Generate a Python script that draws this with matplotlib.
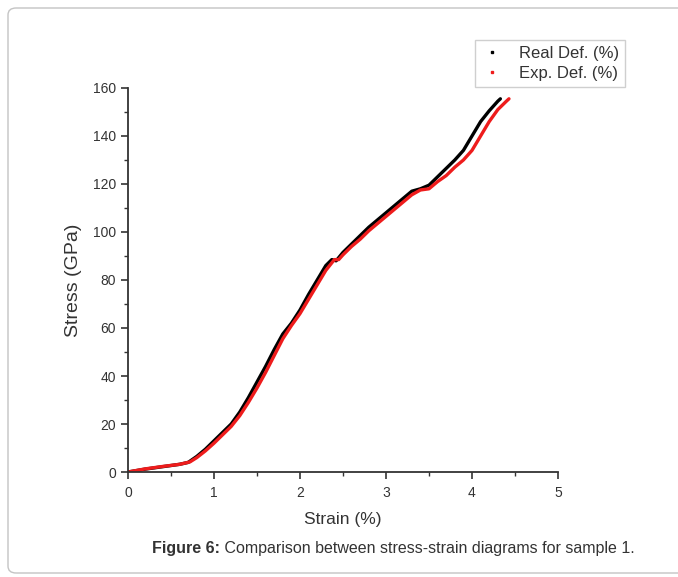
#!/usr/bin/env python3
"""
Stress-strain comparison for sample 1 (Figure 6 recreation).
"""
import matplotlib
matplotlib.use("Agg")
import matplotlib.pyplot as plt
from matplotlib.lines import Line2D
from matplotlib.patches import FancyBboxPatch
from matplotlib.ticker import MultipleLocator

# --- data ---------------------------------------------------------------------------------------
real_strain = [0.0, 0.2, 0.4, 0.6, 0.7, 0.8, 0.9, 1.0, 1.1, 1.2, 1.3, 1.4, 1.5, 1.6, 1.7, 1.8,
               1.9, 2.0, 2.1, 2.2, 2.3, 2.37, 2.42, 2.5, 2.6, 2.7, 2.8, 2.9, 3.0, 3.1, 3.2, 3.3,
               3.4, 3.5, 3.6, 3.7, 3.8, 3.9, 4.0, 4.1, 4.2, 4.3, 4.33]
real_stress = [0.0, 1.2, 2.2, 3.2, 4.0, 6.5, 9.5, 13.0, 16.5, 20.0, 25.0, 31.0, 37.5, 44.0, 51.0,
               57.5, 62.0, 67.5, 74.0, 80.0, 86.0, 88.5, 88.0, 91.5, 95.0, 98.5, 102.0, 105.0,
               108.0, 111.0, 114.0, 117.0, 118.0, 119.5, 123.0, 126.5, 130.0, 134.0, 140.0,
               146.0, 150.5, 154.5, 155.5]

exp_strain = [0.0, 0.2, 0.4, 0.6, 0.72, 0.8, 0.9, 1.0, 1.1, 1.2, 1.3, 1.4, 1.5, 1.6, 1.7, 1.8,
              1.9, 2.0, 2.1, 2.2, 2.3, 2.4, 2.45, 2.5, 2.6, 2.7, 2.8, 2.9, 3.0, 3.1, 3.2, 3.3,
              3.4, 3.5, 3.6, 3.7, 3.8, 3.9, 4.0, 4.1, 4.2, 4.3, 4.4, 4.43]
exp_stress = [0.0, 1.3, 2.3, 3.2, 4.2, 6.0, 8.8, 12.0, 15.5, 19.0, 23.5, 29.0, 35.0, 41.5, 48.5,
              55.5, 61.0, 66.0, 72.0, 78.0, 84.0, 88.5, 88.5, 90.5, 94.0, 97.0, 100.5, 103.5,
              106.5, 109.5, 112.5, 115.5, 117.5, 118.0, 121.0, 123.5, 127.0, 130.0, 134.0,
              140.0, 146.0, 151.0, 154.5, 155.5]

SERIES_LABELS = ["Real Def. (%)", "Exp. Def. (%)"]
CAPTION_BOLD = "Figure 6:"
CAPTION_TEXT = " Comparison between stress-strain diagrams for sample 1."

W, H = 678, 577
plt.rcParams["font.family"] = ["Liberation Sans", "DejaVu Sans"]
INK = "#333333"


def main():
    fig = plt.figure(figsize=(W / 100, H / 100), dpi=100)

    # rounded frame around the figure (right side runs off the image)
    frame = FancyBboxPatch((8 / W, 4 / H), 700 / W, (H - 12) / H,
                           boxstyle="round,pad=0,rounding_size=0.012",
                           transform=fig.transFigure, facecolor="none",
                           edgecolor="#c4c4c4", linewidth=1.0)
    fig.patches.append(frame)

    ax = fig.add_axes([128 / W, 1 - 472 / H, (558 - 128) / W, (472 - 88) / H])
    ax.plot(real_strain, real_stress, color="black", linewidth=2.4, solid_capstyle="round")
    ax.plot(exp_strain, exp_stress, color="#ee1c1c", linewidth=2.4, solid_capstyle="round")

    ax.set_xlim(0, 5)
    ax.set_ylim(0, 160)
    ax.xaxis.set_major_locator(MultipleLocator(1))
    ax.xaxis.set_minor_locator(MultipleLocator(0.5))
    ax.yaxis.set_major_locator(MultipleLocator(20))
    ax.yaxis.set_minor_locator(MultipleLocator(10))
    for s in ("top", "right"):
        ax.spines[s].set_visible(False)
    for s in ("left", "bottom"):
        ax.spines[s].set_color(INK)
        ax.spines[s].set_linewidth(1.3)
    ax.tick_params(which="major", direction="out", length=5, width=1.2, color=INK,
                   labelcolor=INK, labelsize=10)
    ax.tick_params(which="minor", direction="out", length=3, width=1.0, color=INK)
    ax.tick_params(axis="x", pad=5)

    ax.set_xlabel("Strain (%)", fontsize=12.5, color=INK, labelpad=9)
    ax.set_ylabel("Stress (GPa)", fontsize=14, color=INK, labelpad=8)

    handles = [Line2D([], [], color=c, marker="s", markersize=1.8, linestyle="none")
               for c in ("black", "#ee1c1c")]
    leg = fig.legend(handles, SERIES_LABELS, loc="upper right",
                     bbox_to_anchor=(625 / W, 1 - 40 / H), borderaxespad=0,
                     fontsize=12, frameon=True, fancybox=False, handlelength=1.4,
                     handletextpad=0.9, labelspacing=0.3, borderpad=0.35)
    leg.get_frame().set_edgecolor("#c4c4c4")
    leg.get_frame().set_linewidth(1.0)
    for t in leg.get_texts():
        t.set_color(INK)

    # caption: bold label followed by regular text
    cap_y = 1 - 549 / H
    t1 = fig.text(152 / W, cap_y, CAPTION_BOLD, fontsize=11.5, fontweight="bold",
                  color=INK, va="center", ha="left")
    fig.canvas.draw()
    bb = t1.get_window_extent()
    fig.text(bb.x1 / W, cap_y, CAPTION_TEXT, fontsize=11.5, color=INK, va="center", ha="left")

    fig.savefig("out.png", dpi=100, facecolor="white")
    plt.close(fig)


if __name__ == "__main__":
    main()
